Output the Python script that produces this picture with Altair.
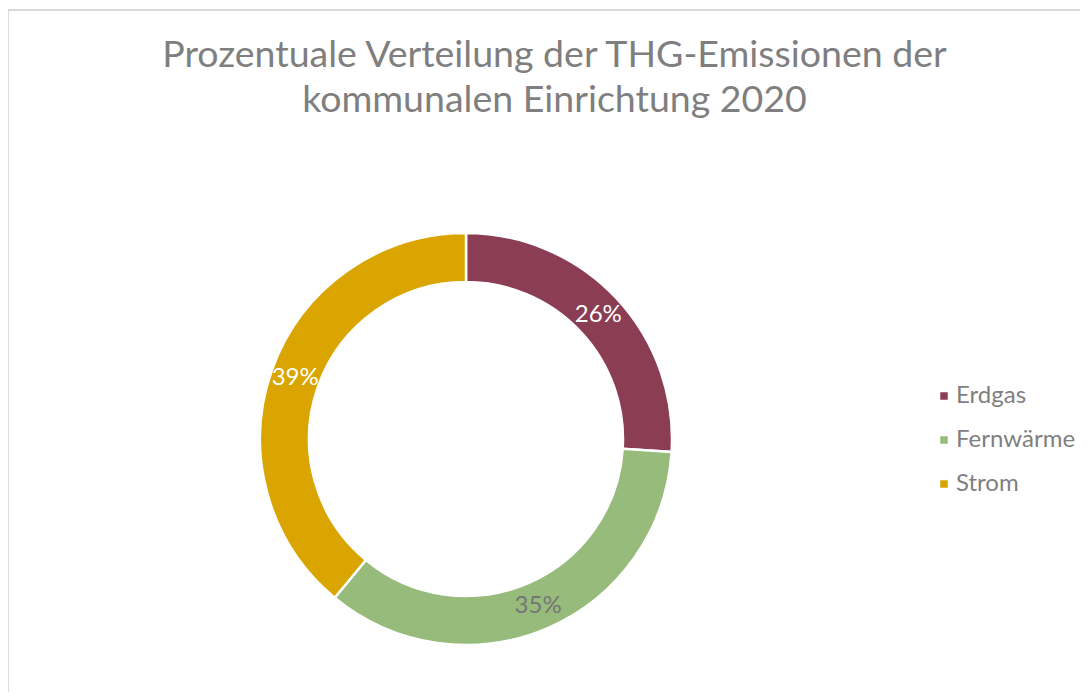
import altair as alt
import pandas as pd

categories = ["Erdgas", "Fernwärme", "Strom"]
values = [26, 35, 39]
labels = ["26%", "35%", "39%"]
colors = ["#8B3D53", "#97BB7B", "#DAA500"]
title_lines = ["Prozentuale Verteilung der THG-Emissionen der", "kommunalen Einrichtung 2020"]

df = pd.DataFrame({
    "Kategorie": categories,
    "Wert": values,
    "Label": labels,
    "Ordnung": list(range(len(categories))),
})

CX, CY = 466 - 8, 439 - 10

frame = alt.Chart(df).mark_rect(fill=None, stroke="#D9D9D9", strokeWidth=1.5).encode(
    x=alt.value(-1), y=alt.value(0), x2=alt.value(3000), y2=alt.value(3000)
)

base = alt.Chart(df).encode(
    theta=alt.Theta("Wert:Q", stack=True),
    order=alt.Order("Ordnung:Q"),
    x=alt.value(CX),
    y=alt.value(CY),
)

arcs = base.mark_arc(outerRadius=206, innerRadius=157, stroke="white", strokeWidth=2.5).encode(
    color=alt.Color(
        "Kategorie:N",
        scale=alt.Scale(domain=categories, range=colors),
        sort=categories,
        legend=alt.Legend(
            title=None,
            orient="none",
            legendX=924,
            legendY=374,
            symbolType="square",
            symbolSize=56,
            symbolStrokeWidth=0,
            labelFont="Lato",
            labelFontSize=24,
            labelColor="#7F7F7F",
            labelOffset=0,
            rowPadding=20,
            padding=0,
        ),
    )
)

text = base.mark_text(radius=181.5, font="Lato", fontSize=24, align="center", baseline="middle").encode(
    text="Label:N",
    color=alt.condition(alt.datum.Kategorie == "Fernwärme", alt.value("#767676"), alt.value("white")),
)

chart = alt.layer(frame, arcs, text).properties(
    width=1072,
    height=682,
    padding={"left": 0, "top": 2, "right": 0, "bottom": 0},
    autosize=alt.AutoSizeParams(type="none"),
    title=alt.TitleParams(
        text=title_lines,
        font="Lato",
        fontSize=37.5,
        fontWeight="normal",
        color="#7F7F7F",
        anchor="middle",
        baseline="alphabetic",
        lineHeight=45,
        offset=-140,
        dx=10.5,
    ),
).configure_view(stroke=None).configure(background="white")

chart.save("out.html", embed_options={"renderer": "svg", "actions": False})
